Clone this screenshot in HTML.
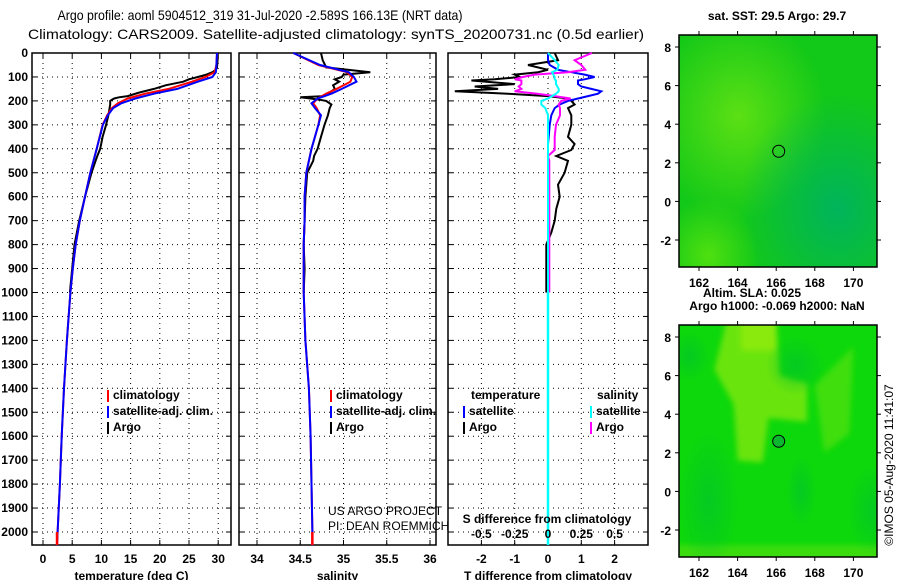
<!DOCTYPE html>
<html><head><meta charset="utf-8"><style>
html,body{margin:0;padding:0;background:#fff;}
svg text{font-family:"Liberation Sans",sans-serif;}
.b{font-weight:bold;font-size:12px;}
</style></head><body>
<svg id="c" width="900" height="580" xmlns="http://www.w3.org/2000/svg">
<defs>
<radialGradient id="g1a" cx="0.3" cy="0.35" r="0.45"><stop offset="0" stop-color="#5ce014"/><stop offset="1" stop-color="#5ce014" stop-opacity="0"/></radialGradient>
<radialGradient id="g1b" cx="0.8" cy="0.75" r="0.5"><stop offset="0" stop-color="#00b45c"/><stop offset="1" stop-color="#00b45c" stop-opacity="0"/></radialGradient>
<radialGradient id="g1c" cx="0.15" cy="0.95" r="0.25"><stop offset="0" stop-color="#4fe010"/><stop offset="1" stop-color="#4fe010" stop-opacity="0"/></radialGradient>
<radialGradient id="g2d" r="0.5"><stop offset="0" stop-color="#00c030" stop-opacity="0.6"/><stop offset="1" stop-color="#00c030" stop-opacity="0"/></radialGradient>
<filter id="bl" x="-20%" y="-20%" width="140%" height="140%"><feGaussianBlur stdDeviation="3"/></filter>
<clipPath id="mc2"><rect x="679" y="325" width="198" height="232"/></clipPath>
</defs>
<text x="260" y="20" text-anchor="middle" font-size="14" textLength="405" lengthAdjust="spacingAndGlyphs">Argo profile: aoml 5904512_319 31-Jul-2020 -2.589S 166.13E (NRT data)</text>
<text x="336" y="39" text-anchor="middle" font-size="14" textLength="616" lengthAdjust="spacingAndGlyphs">Climatology: CARS2009. Satellite-adjusted climatology: synTS_20200731.nc (0.5d earlier)</text>
<g id="plots"></g>
<g id="maps"></g>
<text transform="translate(893,465) rotate(-90)" text-anchor="middle" font-size="12">©IMOS 05-Aug-2020 11:41:07</text>
</svg>
<script>
// ---- data ----
const depthTicks = [0,100,200,300,400,500,600,700,800,900,1000,1100,1200,1300,1400,1500,1600,1700,1800,1900,2000];
const climDepth = [0,50,80,100,120,150,170,190,210,230,260,300,400,500,600,700,800,900,1000,1200,1400,1600,1800,2000,2055];
const climTemp = [29.8,29.7,29.4,27.8,25.5,21.5,17.5,14.5,12.8,11.8,11.0,10.2,9.2,8.1,7.2,6.3,5.6,5.1,4.7,4.1,3.6,3.2,2.9,2.5,2.4];
const satTemp  = [29.8,29.7,29.6,29.0,26.5,23.0,19.0,15.8,13.4,12.0,11.1,10.25,9.2,8.1,7.2,6.3,5.6,5.1,4.7,4.1,3.6,3.2,2.9,2.5,2.4];
const climSal = [34.42,34.71,35.04,35.10,35.08,34.92,34.80,34.70,34.65,34.69,34.73,34.71,34.63,34.57,34.55,34.55,34.54,34.54,34.54,34.56,34.60,34.62,34.63,34.64,34.64];
const satSal  = [34.42,34.73,35.06,35.12,35.15,34.98,34.86,34.70,34.63,34.67,34.74,34.71,34.63,34.57,34.55,34.55,34.54,34.54,34.54,34.56,34.60,34.62,34.63,34.64,34.64];
const argoDepth = [0,30,60,70,80,90,100,110,120,135,150,165,180,185,190,195,200,215,230,260,300,350,400,430,450,500,600,700,800,900,1000];
const argoTemp = [29.9,29.9,29.8,29.6,29.0,28.0,26.5,25.0,24.0,21.0,19.0,16.5,14.5,13.0,12.2,11.8,11.5,11.5,11.4,11.2,10.8,10.2,9.8,9.3,9.0,8.3,7.2,6.2,5.4,5.0,4.6];
const argoSal = [34.74,34.76,34.80,35.05,35.31,35.00,34.98,34.90,34.95,34.88,34.90,34.84,34.78,34.50,34.62,34.72,34.80,34.86,34.84,34.82,34.78,34.74,34.70,34.66,34.65,34.58,34.56,34.55,34.54,34.55,34.54];
const diffDepth = [0,30,50,70,80,90,100,110,115,130,140,150,160,170,180,190,200,215,230,260,300,350,380,405,430,450,500,550,600,650,700,750,800,900,1000];
const satTDiff = [0,0,0.05,0.3,0.7,1.1,1.4,1.1,0.9,0.9,1.0,1.3,1.6,1.5,1.2,0.9,0.6,0.35,0.2,0.1,0.05,0.02,0,0,0,0,0,0,0,0,0,0,0,0,0];
const argoTDiff = [0.2,0.3,-0.6,0.0,-0.3,-1.0,-0.84,-1.6,-2.3,-1.0,-2.2,-1.5,-2.8,-1.2,0.0,0.6,0.7,0.8,0.6,0.7,0.7,0.6,0.8,0.7,0.25,0.6,0.5,0.3,0.35,0.25,0.2,0.1,-0.05,-0.05,-0.05];
const satSDiff = [0,0.05,0.08,0.07,0.03,0.04,0.05,0.05,0.06,0.06,0.07,0.08,0.08,0.06,0.03,0,-0.05,-0.05,-0.02,0,0,0,0,0,0,0,0,0,0,0,0,0,0,0,0];
const argoSDiff = [0.33,0.2,0.25,0.28,0.15,-0.1,-0.19,-0.25,-0.2,-0.2,-0.22,-0.2,-0.25,-0.08,0.05,0.17,0.1,0.08,0.09,0.09,0.06,0.05,0.05,0.05,0,0.01,0.01,0.01,0.01,0.01,0.01,0.01,0.01,0.01,0.01];
const tempTicks = [0,5,10,15,20,25,30];
const salTicks = [34,34.5,35,35.5,36];
const tdTicks = [-2,-1,0,1,2];
const sdTicks = [-0.5,-0.25,0,0.25,0.5];
const latTicks = [8,6,4,2,0,-2];
const lonTicks = [162,164,166,168,170];

const NS='http://www.w3.org/2000/svg';
function mk(tag, attrs, parent, txt){const e=document.createElementNS(NS,tag);for(const k in attrs)e.setAttribute(k,attrs[k]);if(txt!==undefined)e.textContent=txt;parent.appendChild(e);return e;}
const plots=document.getElementById('plots');
const Y0=53, Y1=545;
const yD = d => Y0 + d*0.2395;
const panels=[
 {x0:32,x1:231,sx:v=>43+v*5.84,ticks:tempTicks,name:'temperature-panel',title:'temperature (deg C)'},
 {x0:239,x1:436,sx:v=>257+(v-34)*86.5,ticks:salTicks,name:'salinity-panel',title:'salinity'},
 {x0:448,x1:648,sx:v=>548+v*33.3,ticks:tdTicks,name:'difference-panel',title:'T difference from climatology'}
];
panels.forEach((p,pi)=>{
  const g=mk('g',{},plots);
  
  
  depthTicks.forEach(d=>{const y=yD(d);
    mk('line',{x1:p.x0,x2:p.x1,y1:y,y2:y,stroke:'#000','stroke-width':1,'stroke-dasharray':'1 4'},g);
    mk('line',{x1:p.x0,x2:p.x0+5,y1:y,y2:y,stroke:'#000'},g);
    mk('line',{x1:p.x1-5,x2:p.x1,y1:y,y2:y,stroke:'#000'},g);
  });
  p.ticks.forEach(v=>{const x=p.sx(v);
    mk('line',{x1:x,x2:x,y1:Y0,y2:Y1,stroke:'#000','stroke-dasharray':'1 4'},g);
    mk('line',{x1:x,x2:x,y1:Y0,y2:Y0+5,stroke:'#000'},g);
    mk('line',{x1:x,x2:x,y1:Y1-5,y2:Y1,stroke:'#000'},g);
    const t=mk('text',{x:x,y:563,'text-anchor':'middle',class:'b'},g,String(v));
    
    
  });
  mk('rect',{x:p.x0,y:Y0,width:p.x1-p.x0,height:Y1-Y0,fill:'none',stroke:'#000','stroke-width':1.5},g);
  const tt=mk('text',{x:(p.x0+p.x1)/2,y:580,'text-anchor':'middle',class:'b'},g,p.title);
  
  
});
depthTicks.forEach(d=>{
  const t=mk('text',{x:28,y:yD(d)+4,'text-anchor':'end',class:'b'},plots,String(d));
  
  
});
function line(g,xs,ds,fx,color,name,w){
  const pts=xs.map((v,i)=>fx(v).toFixed(1)+','+yD(ds[i]).toFixed(1)).join(' ');
  const e=mk('polyline',{points:pts,fill:'none',stroke:color,'stroke-width':w||2},g);
  
  
}
const P=panels;
line(plots,argoTemp,argoDepth,P[0].sx,'#000','argo-temperature-line');
line(plots,climTemp,climDepth,P[0].sx,'#f00','climatology-temperature-line');
line(plots,satTemp,climDepth,P[0].sx,'#00f','satellite-temperature-line');
line(plots,argoSal,argoDepth,P[1].sx,'#000','argo-salinity-line');
line(plots,climSal,climDepth,P[1].sx,'#f00','climatology-salinity-line');
line(plots,satSal,climDepth,P[1].sx,'#00f','satellite-salinity-line');
const sdx=v=>548+v*4*33.3;
line(plots,argoTDiff,diffDepth,P[2].sx,'#000','argo-t-diff-line');
line(plots,satTDiff,diffDepth,P[2].sx,'#00f','satellite-t-diff-line');
line(plots,argoSDiff,diffDepth,sdx,'#f0f','argo-s-diff-line');
line(plots,satSDiff,diffDepth,sdx,'#0ff','satellite-s-diff-line');
mk('line',{x1:548,x2:548,y1:yD(1000),y2:Y1,stroke:'#0ff','stroke-width':2.5},plots);
mk('line',{x1:P[0].sx(2.4),x2:P[0].sx(2.4),y1:yD(2000),y2:Y1,stroke:'#f00','stroke-width':2.5},plots);
mk('line',{x1:P[1].sx(34.64),x2:P[1].sx(34.64),y1:yD(2000),y2:Y1,stroke:'#f00','stroke-width':2.5},plots);
sdTicks.forEach(v=>{const t=mk('text',{x:sdx(v),y:538,'text-anchor':'middle',class:'b'},plots,String(v));
  
  });
mk('text',{x:547,y:523,'text-anchor':'middle',class:'b'},plots,'S difference from climatology');
function leg(x,y,color,label,name){
  const g=mk('g',{},plots);
  
  
  mk('rect',{x:x,y:y-9,width:2,height:12,fill:color},g);
  mk('text',{x:x+6,y:y,class:'b'},g,label);
}
leg(107,399,'#f00','climatology','legend-climatology');
leg(107,415,'#00f','satellite-adj. clim.','legend-satellite');
leg(107,431,'#000','Argo','legend-argo');
leg(330,399,'#f00','climatology','legend-climatology-s');
leg(330,415,'#00f','satellite-adj. clim.','legend-satellite-s');
leg(330,431,'#000','Argo','legend-argo-s');
mk('text',{x:471,y:399,class:'b'},plots,'temperature');
mk('text',{x:597,y:399,class:'b'},plots,'salinity');
leg(463,415,'#00f','satellite','legend-t-satellite');
leg(463,431,'#000','Argo','legend-t-argo');
leg(590,415,'#0ff','satellite','legend-s-satellite');
leg(590,431,'#f0f','Argo','legend-s-argo');
mk('text',{x:328,y:515,'font-size':12},plots,'US ARGO PROJECT');
mk('text',{x:328,y:530,'font-size':12},plots,'PI: DEAN ROEMMICH');
const maps=document.getElementById('maps');
function map(y0,title,kind){
  const g=mk('g',{},maps);
  
  
  const x0=679,x1=877,y1=y0+232;
  const lx=v=>699+(v-162)*19.3, ly=v=>y0+12+(8-v)*19.3;
  mk('rect',{x:x0,y:y0,width:x1-x0,height:y1-y0,fill:kind==1?'#12c818':'#0cd80c'},g);
  if(kind==1){
    mk('rect',{x:x0,y:y0,width:x1-x0,height:y1-y0,fill:'url(#g1a)'},g);
    mk('rect',{x:x0,y:y0,width:x1-x0,height:y1-y0,fill:'url(#g1b)'},g);
    mk('rect',{x:x0,y:y0,width:x1-x0,height:y1-y0,fill:'url(#g1c)'},g);
  } else {
    const cg=mk('g',{'clip-path':'url(#mc2)'},g);
    const fg=mk('g',{filter:'url(#bl)'},cg);
    mk('path',{d:`M${lx(163.5)},${y0-10} L${lx(166)},${y0-10} L${lx(166.2)},${ly(6)} L${lx(167.6)},${ly(5.6)} L${lx(167.6)},${ly(3.6)} L${lx(165.6)},${ly(3.8)} L${lx(165.3)},${ly(1.5)} L${lx(164)},${ly(1.6)} L${lx(163.8)},${ly(4.5)} L${lx(162.8)},${ly(6.3)} Z`,fill:'#6ae40a'},fg);
    mk('path',{d:`M${lx(168)},${ly(5.5)} L${lx(170)},${ly(7.5)} L${lx(169.8)},${ly(3)} L${lx(168.5)},${ly(2)} Z`,fill:'#40de0c'},fg);
    mk('rect',{x:lx(164.2),y:y0-5,width:34,height:30,fill:'#8aea08'},fg);
    mk('rect',{x:x0-5,y:y1-12,width:x1-x0+10,height:20,fill:'#3adc0c'},fg);
    [[162.5,-0.5,30,70],[167,6.5,30,30],[171,-1,25,45],[161.5,7,20,25],[167.3,0,15,35]].forEach(c=>{
      mk('ellipse',{cx:lx(c[0]),cy:ly(c[1]),rx:c[2],ry:c[3],fill:'url(#g2d)'},cg);
    });
  }
  mk('circle',{cx:lx(166.13),cy:ly(2.6),r:6,fill:kind==1?'none':'#0cb830',stroke:'#000','stroke-width':1},g);
  mk('rect',{x:x0,y:y0,width:x1-x0,height:y1-y0,fill:'none',stroke:'#000','stroke-width':1.5},g);
  latTicks.forEach(v=>{
    mk('line',{x1:x0-4,x2:x0,y1:ly(v),y2:ly(v),stroke:'#000'},g);
    mk('line',{x1:x1,x2:x1+4,y1:ly(v),y2:ly(v),stroke:'#000'},g);
    mk('text',{x:671,y:ly(v)+5,'text-anchor':'end',class:'b','font-size':13},g,String(v));
  });
  lonTicks.forEach(v=>{
    mk('line',{x1:lx(v),x2:lx(v),y1:y0-4,y2:y0,stroke:'#000'},g);
    mk('line',{x1:lx(v),x2:lx(v),y1:y1,y2:y1+4,stroke:'#000'},g);
    mk('text',{x:lx(v),y:y1+20,'text-anchor':'middle',class:'b','font-size':13},g,String(v));
  });
  mk('text',{x:777,y:y0-15,'text-anchor':'middle',class:'b'},g,title);
}
map(35,'sat. SST: 29.5 Argo: 29.7',1);
map(325,'Argo h1000: -0.069 h2000: NaN',2);
mk('text',{x:752,y:297,'text-anchor':'middle',class:'b'},maps,'Altim. SLA: 0.025');
</script>
</body></html>
